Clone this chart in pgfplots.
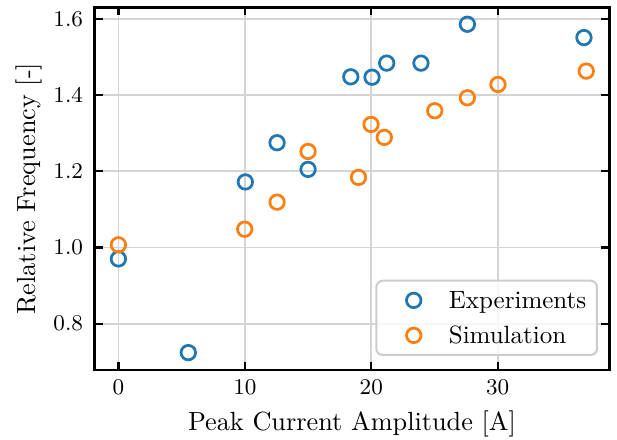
\documentclass[border=0pt]{standalone}
\usepackage{pgfplots}
\pgfplotsset{compat=1.18}
\definecolor{tabblue}{HTML}{1F77B4}
\definecolor{taborange}{HTML}{FF7F0E}
\begin{document}
\begin{tikzpicture}
\useasboundingbox (0,0) rectangle (246.8pt,176pt);
\begin{axis}[
  at={(37.9pt,28pt)}, anchor=south west,
  scale only axis, width=205.8pt, height=145.1pt,
  xmin=-1.87, xmax=38.82, ymin=0.6784, ymax=1.6307,
  xtick={0,10,20,30}, ytick={0.8,1.0,1.2,1.4,1.6},
  yticklabel style={/pgf/number format/fixed, /pgf/number format/fixed zerofill, /pgf/number format/precision=1},
  tick label style={font=\fontsize{9.2}{11}\selectfont, inner sep=0pt},
  yticklabel style={xshift=-4.5pt},
  xticklabel style={yshift=-4pt},
  tick pos=both, tick align=inside, major tick length=3.2pt,
  every tick/.style={black, line width=0.9pt},
  axis line style={line width=1.1pt},
  grid=major, grid style={line width=0.7pt, draw=black!17},
  xlabel={Peak Current Amplitude [A]},
  ylabel={Relative Frequency [-]},
  label style={font=\fontsize{10.5}{12.6}\selectfont},
  xlabel style={at={(axis description cs:0.5,-0.168)}, anchor=base},
  ylabel style={at={(axis description cs:-0.1288,0.5)}, anchor=center},
  legend style={at={(1,0)}, anchor=south east, xshift=-4.5pt, yshift=5.6pt,
    draw=black!20, line width=0.8pt, rounded corners=2.5pt,
    fill=white, fill opacity=0.8, text opacity=1,
    font=\fontsize{10}{12}\selectfont,
    inner xsep=4.3pt, inner ysep=4.3pt, row sep=6.9pt,
    nodes={inner sep=0pt, text height=7pt, text depth=0.1pt},
    cells={anchor=west}},
  legend image code/.code={\path (0pt,0pt) (23.6pt,0pt); \draw[#1] plot coordinates {(10.1pt,0pt)};},
]
\addplot[only marks, mark=o, mark size=2.9pt, line width=1.1pt, tabblue] coordinates {
(0,0.970) (5.53,0.724) (10.04,1.172) (12.55,1.275) (15.0,1.205) (18.38,1.448)
(20.06,1.447) (21.22,1.484) (23.93,1.484) (27.6,1.586) (36.82,1.551)};
\addlegendentry{Experiments}
\addplot[only marks, mark=o, mark size=2.9pt, line width=1.1pt, taborange] coordinates {
(0,1.007) (9.99,1.048) (12.55,1.119) (15.0,1.252) (18.99,1.184) (19.98,1.323)
(21.03,1.289) (25.02,1.359) (27.6,1.393) (30.02,1.428) (37.0,1.463)};
\addlegendentry{Simulation}
\end{axis}
\end{tikzpicture}
\end{document}
